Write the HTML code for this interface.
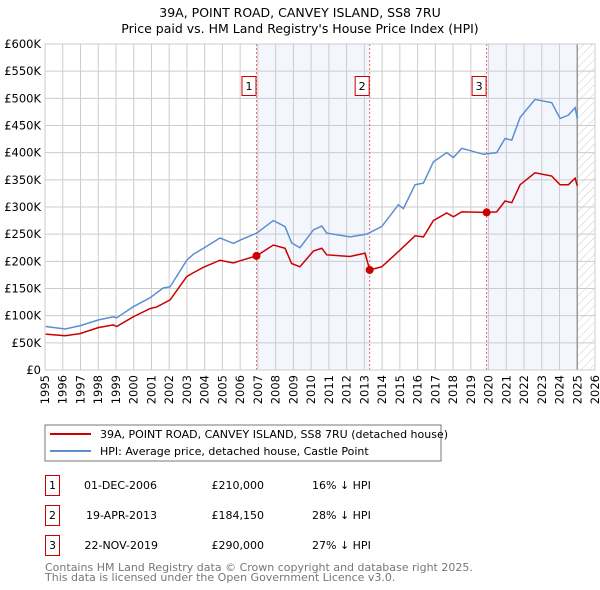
<!DOCTYPE html>
<html><head><meta charset="utf-8"><style>
body{margin:0;background:#fff;width:600px;height:590px;overflow:hidden;font-family:"DejaVu Sans","Liberation Sans",sans-serif}
svg{display:block}
</style></head><body>
<svg id="c" width="600" height="590" font-family="DejaVu Sans, Liberation Sans, sans-serif">
<defs><pattern id="hatch" width="6" height="6" patternUnits="userSpaceOnUse" patternTransform="rotate(45)"><line x1="0" y1="0" x2="0" y2="6" stroke="#ccc" stroke-width="1"/></pattern></defs>
<text x="300" y="17" text-anchor="middle" font-size="12.5">39A, POINT ROAD, CANVEY ISLAND, SS8 7RU</text>
<text x="300" y="33" text-anchor="middle" font-size="12.5">Price paid vs. HM Land Registry's House Price Index (HPI)</text>
<g id="plot"></g>
<rect x="45" y="425" width="396" height="36" fill="#fff" stroke="#777"/>
<line x1="50" y1="434" x2="91" y2="434" stroke="#cc0000" stroke-width="2"/>
<text x="100" y="438" font-size="11">39A, POINT ROAD, CANVEY ISLAND, SS8 7RU (detached house)</text>
<line x1="50" y1="451" x2="91" y2="451" stroke="#5b8fd0" stroke-width="2"/>
<text x="100" y="455" font-size="11">HPI: Average price, detached house, Castle Point</text>
<g font-size="11">
<rect x="45.5" y="475.5" width="14" height="20" fill="none" stroke="#c00"/><text x="52.5" y="489" text-anchor="middle">1</text>
<text x="157" y="489" text-anchor="end">01-DEC-2006</text><text x="264" y="489" text-anchor="end">£210,000</text><text x="312" y="489">16% ↓ HPI</text>
<rect x="45.5" y="505.5" width="14" height="20" fill="none" stroke="#c00"/><text x="52.5" y="519" text-anchor="middle">2</text>
<text x="157" y="519" text-anchor="end">19-APR-2013</text><text x="264" y="519" text-anchor="end">£184,150</text><text x="312" y="519">28% ↓ HPI</text>
<rect x="45.5" y="535.5" width="14" height="20" fill="none" stroke="#c00"/><text x="52.5" y="549" text-anchor="middle">3</text>
<text x="158" y="549" text-anchor="end">22-NOV-2019</text><text x="264" y="549" text-anchor="end">£290,000</text><text x="312" y="549">27% ↓ HPI</text>
</g>
<text x="45" y="571" font-size="11" fill="#777">Contains HM Land Registry data © Crown copyright and database right 2025.</text>
<text x="45" y="581" font-size="11" fill="#777">This data is licensed under the Open Government Licence v3.0.</text>
</svg>
<script>
const hpiYears=[1995.04,1996.13,1996.97,1998.0,1998.85,1999.04,1999.98,2000.92,2001.67,2002.05,2002.99,2003.36,2003.93,2004.86,2005.62,2005.99,2006.93,2007.87,2008.53,2008.9,2009.37,2010.13,2010.6,2010.88,2012.19,2013.13,2013.98,2014.92,2015.2,2015.86,2016.33,2016.89,2017.64,2018.02,2018.49,2019.71,2020.46,2020.93,2021.31,2021.78,2022.62,2023.56,2024.03,2024.5,2024.88,2025.0];
const hpiValues=[80,75.5,81.5,92,98,96,116.5,133,151,153,202,213,224,243,233,239,252,275,264,234,225,258,265,252,245,250,264,304,297,341,344,383,400,391,408,397,400,426,423,465,498,492,463,469,483,463];
const propYears=[1995.04,1996.13,1996.97,1998.0,1998.85,1999.04,1999.98,2000.92,2001.3,2002.05,2002.99,2003.36,2003.93,2004.86,2005.62,2005.99,2006.92,2007.87,2008.53,2008.9,2009.37,2010.13,2010.6,2010.88,2012.19,2013.04,2013.3,2013.98,2014.92,2015.86,2016.33,2016.89,2017.64,2018.02,2018.49,2019.89,2020.46,2020.93,2021.31,2021.78,2022.62,2023.56,2024.03,2024.5,2024.88,2025.0];
const propValues=[66,63,67,78,83,80,98,113,116,129,172,179,189,202,197,201,210,230,224,196,190,219,224,212,209,215,184.15,190,218,247,245,275,289,282,291,290,291,311,308,341,363,357,341,341,353,339];
const saleYears=[2006.92,2013.3,2019.89];
const saleValues=[210,184.15,290];
const saleLabels=["1","2","3"];
const yTicks=[0,50,100,150,200,250,300,350,400,450,500,550,600];
const yLabels=["£0","£50K","£100K","£150K","£200K","£250K","£300K","£350K","£400K","£450K","£500K","£550K","£600K"];
const xTicks=[1995,1996,1997,1998,1999,2000,2001,2002,2003,2004,2005,2006,2007,2008,2009,2010,2011,2012,2013,2014,2015,2016,2017,2018,2019,2020,2021,2022,2023,2024,2025,2026];
const X0=45,X1=595,Y0=370,Y1=44;
const xs=y=>X0+(y-1995)/(2026-1995)*(X1-X0);
const ys=v=>Y0-v/600*(Y0-Y1);
const NS="http://www.w3.org/2000/svg";
const g=document.getElementById('plot');
function mk(t,a){const e=document.createElementNS(NS,t);for(const k in a)e.setAttribute(k,a[k]);g.appendChild(e);return e;}
// shading
let e;
e=mk('rect',{x:xs(saleYears[0]),y:Y1,width:xs(saleYears[1])-xs(saleYears[0]),height:Y0-Y1,fill:'#eef2fb',opacity:0.7});


e=mk('rect',{x:xs(saleYears[2]),y:Y1,width:xs(2025)-xs(saleYears[2]),height:Y0-Y1,fill:'#eef2fb',opacity:0.7});


e=mk('rect',{x:xs(2025),y:Y1,width:X1-xs(2025),height:Y0-Y1,fill:'url(#hatch)'});


// grid
yTicks.forEach((v,i)=>{
 e=mk('line',{x1:X0,x2:X1,y1:ys(v),y2:ys(v),stroke:'#ccc'});
 
 
 e=mk('text',{x:X0-4,y:ys(v)+4,'text-anchor':'end','font-size':'11.5'});e.textContent=yLabels[i];
 
 
});
xTicks.forEach(y=>{
 e=mk('line',{x1:xs(y),x2:xs(y),y1:Y1,y2:Y0,stroke:'#ccc'});
 
 
 e=mk('text',{x:0,y:0,'text-anchor':'end','font-size':'11.5',transform:`translate(${xs(y)+4},${Y0+5}) rotate(-90)`});e.textContent=y;
 
 
});
e=mk('line',{x1:xs(2025),x2:xs(2025),y1:Y1,y2:Y0,stroke:'#999','stroke-width':1.5});


// sale lines
saleYears.forEach((y,i)=>{
 e=mk('line',{x1:xs(y),x2:xs(y),y1:Y1,y2:Y0,stroke:'#e66','stroke-dasharray':'2,2'});
 
 
 e=mk('rect',{x:xs(y)-14.5,y:76.5,width:14,height:19,fill:'#fff',stroke:'#c00'});
 
 
 e=mk('text',{x:xs(y)-7.5,y:90,'text-anchor':'middle','font-size':'11'});e.textContent=saleLabels[i];
 
 
});
e=mk('polyline',{points:hpiYears.map((y,i)=>xs(y)+','+ys(hpiValues[i])).join(' '),fill:'none',stroke:'#5b8fd0','stroke-width':1.5});


e=mk('polyline',{points:propYears.map((y,i)=>xs(y)+','+ys(propValues[i])).join(' '),fill:'none',stroke:'#cc0000','stroke-width':1.5});


saleYears.forEach((y,i)=>{
 e=mk('circle',{cx:xs(y),cy:ys(saleValues[i]),r:4,fill:'#cc0000'});
 
 
});
e=mk('rect',{x:X0,y:Y1,width:X1-X0,height:Y0-Y1,fill:'none',stroke:'#ccc'});


</script>
</body></html>
